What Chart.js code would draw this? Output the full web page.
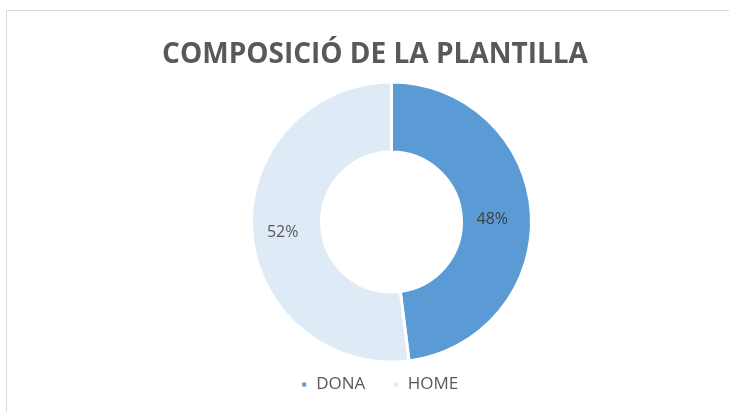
<!DOCTYPE html>
<html>
<head>
<meta charset="utf-8">
<script src="https://cdn.jsdelivr.net/npm/chart.js@4/dist/chart.umd.min.js"></script>
<style>
  html, body { margin: 0; padding: 0; background: #fff; overflow: hidden; }
  #frame { position: absolute; left: 6px; top: 10px; width: 760px; height: 440px; border: 1px solid #d9d9d9; }
  #wrap { position: absolute; left: 0; top: 0; width: 729px; height: 412px; }
</style>
</head>
<body>
<div id="frame"></div>
<div id="wrap"><canvas id="grafico"></canvas></div>
<script>
const titol = "COMPOSICIÓ DE LA PLANTILLA";
const categories = ["DONA", "HOME"];
const valors = [48, 52];
const colors = ["#5b9bd5", "#deebf7"];
const etiquetes = ["48%", "52%"];
const colorsEtiqueta = ["#404040", "#595959"];

// title drawn a bit left of the ring, like the original
const titolPlugin = {
  id: "titol",
  afterDraw(chart) {
    const ctx = chart.ctx;
    ctx.save();
    ctx.font = "bold 28px 'Open Sans'";
    ctx.fillStyle = "#595959";
    ctx.textAlign = "center";
    ctx.textBaseline = "middle";
    ctx.fillText(titol, 375, 55);
    ctx.restore();
  },
};

// the original legend sits a little left of the ring centre
const llegendaPlugin = {
  id: "llegenda",
  afterLayout(chart) {
    chart.legend.left -= 12;
    chart.legend.right -= 12;
  },
};

// percentage labels in the middle of each slice
const etiquetesPlugin = {
  id: "etiquetes",
  afterDatasetsDraw(chart) {
    const ctx = chart.ctx;
    const arcs = chart.getDatasetMeta(0).data;
    ctx.save();
    ctx.font = "16px 'Open Sans'";
    ctx.textAlign = "center";
    ctx.textBaseline = "middle";
    arcs.forEach((arc, i) => {
      const p = arc.tooltipPosition();
      ctx.fillStyle = colorsEtiqueta[i];
      ctx.fillText(etiquetes[i], p.x - 4, p.y + 4);
    });
    ctx.restore();
  },
};

const config = {
  type: "doughnut",
  data: {
    labels: categories,
    datasets: [
      {
        data: valors,
        backgroundColor: colors,
        borderColor: "#ffffff",
        borderWidth: 3,
        radius: 140,
        clip: false,
      },
    ],
  },
  options: {
    responsive: true,
    maintainAspectRatio: false,
    animation: false,
    cutout: "50%",
    layout: {
      padding: { top: 95, bottom: 9, left: 54, right: 0 },
    },
    plugins: {
      title: { display: false },
      tooltip: { enabled: false },
      legend: {
        position: "bottom",
        labels: {
          boxWidth: 7,
          boxHeight: 7,
          padding: 27,
          color: "#595959",
          font: { size: 17, family: "'Open Sans'" },
        },
      },
    },
  },
  plugins: [titolPlugin, llegendaPlugin, etiquetesPlugin],
};

new Chart(document.getElementById("grafico"), config);
</script>
</body>
</html>
